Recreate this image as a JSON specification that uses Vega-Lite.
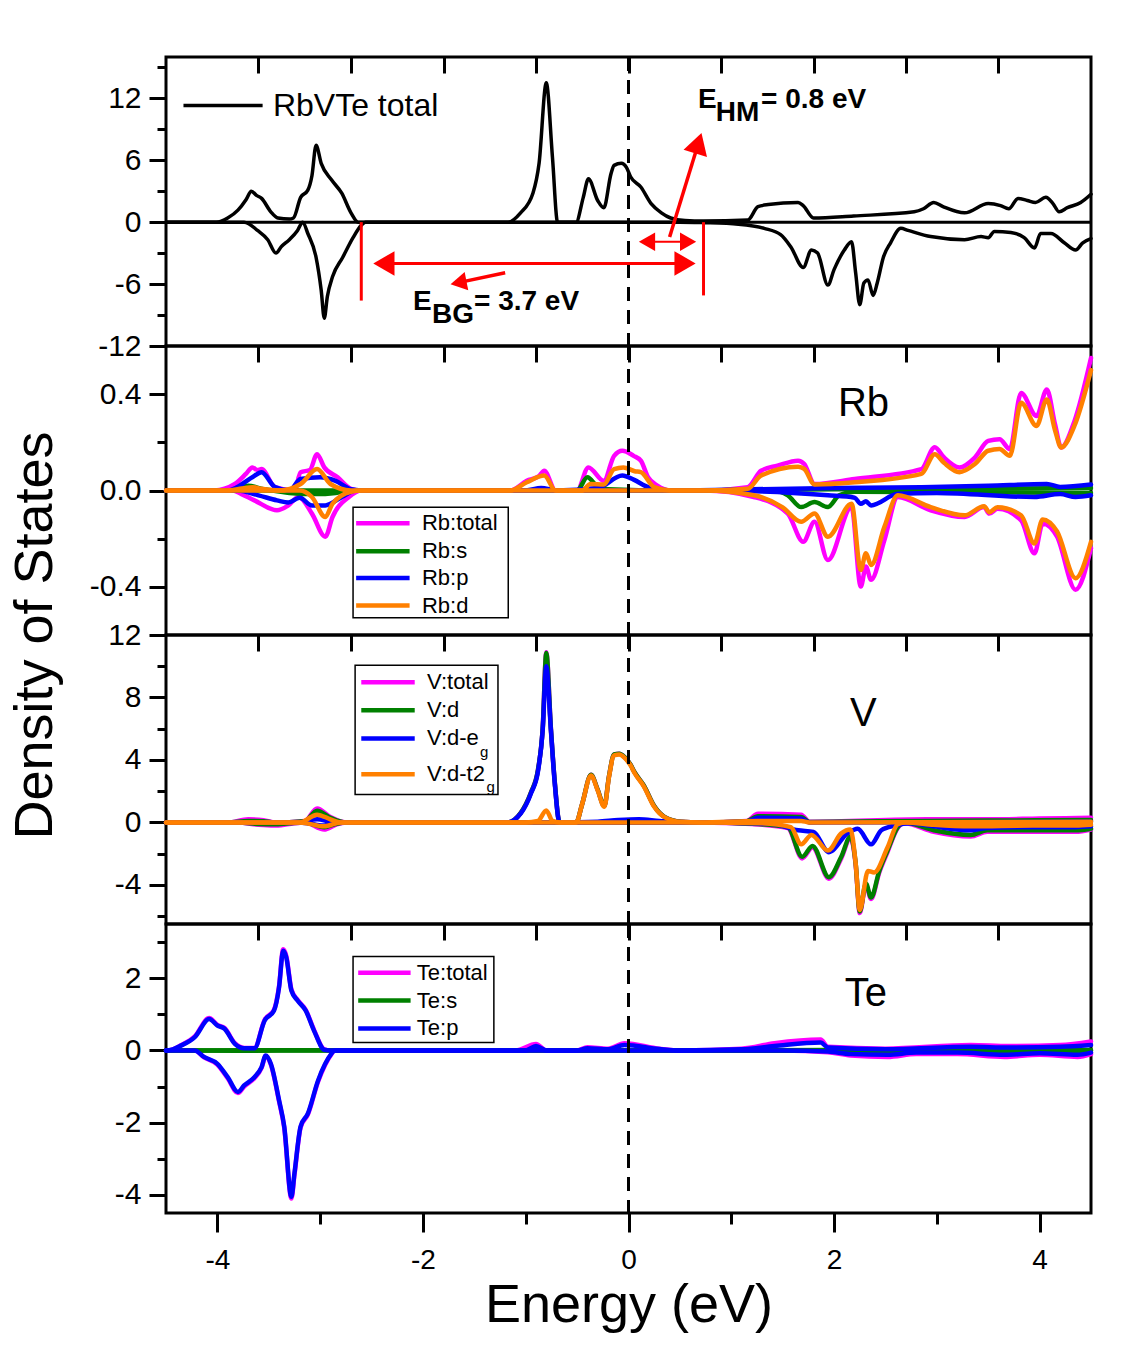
{
"$schema": "https://vega.github.io/schema/vega-lite/v6.json",
"background": "white",
"padding": {"left": 6, "top": 50, "right": 30, "bottom": 10},
"spacing": 0,
"bounds": "flush",
"config": {
  "view": {"stroke": "black", "strokeWidth": 3},
  "font": "Liberation Sans",
  "axis": {"domain": false, "grid": false, "tickColor": "black", "tickWidth": 3, "labelColor": "black", "labelFont": "Liberation Sans", "labelFontSize": 30, "labelOverlap": false, "labelBound": false, "tickCount": 50, "titleColor": "black", "titleFont": "Liberation Sans", "titleFontWeight": "normal", "titleFontSize": 54},
  "line": {"strokeJoin": "round", "strokeCap": "round", "interpolate": "monotone"}
},
"datasets": {
"tot": [
{"sp":"u","E":-4.5,"v":0},{"sp":"u","E":-4.01,"v":0},{"sp":"u","E":-3.9,"v":0.4},{"sp":"u","E":-3.8,"v":1.16},{"sp":"u","E":-3.72,"v":2.2},{"sp":"u","E":-3.67,"v":3.0},{"sp":"u","E":-3.62,"v":2.6},{"sp":"u","E":-3.57,"v":2.3},{"sp":"u","E":-3.48,"v":1.0},{"sp":"u","E":-3.41,"v":0.4},{"sp":"u","E":-3.3,"v":0.3},{"sp":"u","E":-3.26,"v":0.4},{"sp":"u","E":-3.19,"v":2.4},{"sp":"u","E":-3.12,"v":3.1},{"sp":"u","E":-3.08,"v":4.5},{"sp":"u","E":-3.04,"v":7.45},{"sp":"u","E":-2.99,"v":5.7},{"sp":"u","E":-2.89,"v":4.1},{"sp":"u","E":-2.79,"v":2.8},{"sp":"u","E":-2.7,"v":0.9},{"sp":"u","E":-2.63,"v":0},{"sp":"u","E":-1.17,"v":0},{"sp":"u","E":-1.05,"v":0.9},{"sp":"u","E":-0.93,"v":2.8},{"sp":"u","E":-0.87,"v":5.7},{"sp":"u","E":-0.8,"v":13.5},{"sp":"u","E":-0.74,"v":6.3},{"sp":"u","E":-0.69,"v":0},{"sp":"u","E":-0.51,"v":0},{"sp":"u","E":-0.44,"v":2.4},{"sp":"u","E":-0.39,"v":4.2},{"sp":"u","E":-0.3,"v":2.1},{"sp":"u","E":-0.24,"v":1.4},{"sp":"u","E":-0.17,"v":4.7},{"sp":"u","E":-0.14,"v":5.5},{"sp":"u","E":-0.07,"v":5.7},{"sp":"u","E":-0.02,"v":5.3},{"sp":"u","E":0.02,"v":4.4},{"sp":"u","E":0.12,"v":3.4},{"sp":"u","E":0.22,"v":1.8},{"sp":"u","E":0.32,"v":0.9},{"sp":"u","E":0.41,"v":0.4},{"sp":"u","E":0.55,"v":0.15},{"sp":"u","E":0.73,"v":0.1},{"sp":"u","E":1.16,"v":0.2},{"sp":"u","E":1.26,"v":1.5},{"sp":"u","E":1.36,"v":1.7},{"sp":"u","E":1.65,"v":1.9},{"sp":"u","E":1.7,"v":1.6},{"sp":"u","E":1.8,"v":0.4},{"sp":"u","E":2.19,"v":0.6},{"sp":"u","E":2.78,"v":1.0},{"sp":"u","E":2.87,"v":1.3},{"sp":"u","E":2.97,"v":1.9},{"sp":"u","E":3.06,"v":1.5},{"sp":"u","E":3.27,"v":0.9},{"sp":"u","E":3.5,"v":1.8},{"sp":"u","E":3.62,"v":1.6},{"sp":"u","E":3.7,"v":1.3},{"sp":"u","E":3.79,"v":2.3},{"sp":"u","E":3.88,"v":2.1},{"sp":"u","E":3.96,"v":1.9},{"sp":"u","E":4.06,"v":2.4},{"sp":"u","E":4.13,"v":1.8},{"sp":"u","E":4.19,"v":1.0},{"sp":"u","E":4.27,"v":1.4},{"sp":"u","E":4.4,"v":1.9},{"sp":"u","E":4.5,"v":2.7},
{"sp":"d","E":-4.5,"v":0},{"sp":"d","E":-3.74,"v":0},{"sp":"d","E":-3.61,"v":-0.8},{"sp":"d","E":-3.51,"v":-1.7},{"sp":"d","E":-3.43,"v":-3.0},{"sp":"d","E":-3.38,"v":-2.4},{"sp":"d","E":-3.3,"v":-1.7},{"sp":"d","E":-3.22,"v":-0.8},{"sp":"d","E":-3.17,"v":0},{"sp":"d","E":-3.12,"v":-1.1},{"sp":"d","E":-3.04,"v":-3.4},{"sp":"d","E":-2.99,"v":-6.6},{"sp":"d","E":-2.96,"v":-9.3},{"sp":"d","E":-2.93,"v":-7.2},{"sp":"d","E":-2.88,"v":-5.3},{"sp":"d","E":-2.78,"v":-3.4},{"sp":"d","E":-2.68,"v":-1.5},{"sp":"d","E":-2.6,"v":-0.3},{"sp":"d","E":-2.56,"v":0},{"sp":"d","E":0.5,"v":0},{"sp":"d","E":0.73,"v":-0.05},{"sp":"d","E":1.07,"v":-0.2},{"sp":"d","E":1.32,"v":-0.6},{"sp":"d","E":1.48,"v":-1.2},{"sp":"d","E":1.58,"v":-2.4},{"sp":"d","E":1.7,"v":-4.4},{"sp":"d","E":1.78,"v":-2.7},{"sp":"d","E":1.84,"v":-3.0},{"sp":"d","E":1.94,"v":-6.1},{"sp":"d","E":2.0,"v":-4.6},{"sp":"d","E":2.1,"v":-2.7},{"sp":"d","E":2.17,"v":-1.9},{"sp":"d","E":2.21,"v":-4.9},{"sp":"d","E":2.25,"v":-8.0},{"sp":"d","E":2.29,"v":-5.9},{"sp":"d","E":2.33,"v":-5.6},{"sp":"d","E":2.38,"v":-7.1},{"sp":"d","E":2.42,"v":-5.9},{"sp":"d","E":2.48,"v":-3.4},{"sp":"d","E":2.55,"v":-2.0},{"sp":"d","E":2.65,"v":-0.6},{"sp":"d","E":2.72,"v":-0.8},{"sp":"d","E":2.94,"v":-1.4},{"sp":"d","E":3.27,"v":-1.7},{"sp":"d","E":3.43,"v":-1.4},{"sp":"d","E":3.5,"v":-1.5},{"sp":"d","E":3.56,"v":-0.9},{"sp":"d","E":3.72,"v":-1.0},{"sp":"d","E":3.85,"v":-1.5},{"sp":"d","E":3.95,"v":-2.5},{"sp":"d","E":4.01,"v":-1.1},{"sp":"d","E":4.11,"v":-1.1},{"sp":"d","E":4.24,"v":-2.0},{"sp":"d","E":4.35,"v":-2.7},{"sp":"d","E":4.42,"v":-2.0},{"sp":"d","E":4.5,"v":-1.6}
],
"rb_t": [
{"sp":"u","E":-4.5,"v":0},{"sp":"u","E":-4.03,"v":0},{"sp":"u","E":-3.83,"v":0.027},{"sp":"u","E":-3.72,"v":0.07},{"sp":"u","E":-3.66,"v":0.096},{"sp":"u","E":-3.61,"v":0.085},{"sp":"u","E":-3.57,"v":0.089},{"sp":"u","E":-3.44,"v":0.014},{"sp":"u","E":-3.25,"v":0},{"sp":"u","E":-3.19,"v":0.076},{"sp":"u","E":-3.1,"v":0.085},{"sp":"u","E":-3.03,"v":0.151},{"sp":"u","E":-2.96,"v":0.096},{"sp":"u","E":-2.83,"v":0.055},{"sp":"u","E":-2.7,"v":0.007},{"sp":"u","E":-2.6,"v":0},{"sp":"u","E":-1.15,"v":0},{"sp":"u","E":-0.99,"v":0.04},{"sp":"u","E":-0.87,"v":0.06},{"sp":"u","E":-0.82,"v":0.082},{"sp":"u","E":-0.71,"v":0},{"sp":"u","E":-0.5,"v":0},{"sp":"u","E":-0.39,"v":0.096},{"sp":"u","E":-0.24,"v":0.04},{"sp":"u","E":-0.14,"v":0.144},{"sp":"u","E":-0.06,"v":0.165},{"sp":"u","E":0.05,"v":0.144},{"sp":"u","E":0.12,"v":0.124},{"sp":"u","E":0.19,"v":0.055},{"sp":"u","E":0.28,"v":0.02},{"sp":"u","E":0.41,"v":0},{"sp":"u","E":0.74,"v":0},{"sp":"u","E":1.16,"v":0.014},{"sp":"u","E":1.29,"v":0.082},{"sp":"u","E":1.45,"v":0.103},{"sp":"u","E":1.65,"v":0.124},{"sp":"u","E":1.71,"v":0.11},{"sp":"u","E":1.81,"v":0.027},{"sp":"u","E":2.2,"v":0.048},{"sp":"u","E":2.85,"v":0.089},{"sp":"u","E":2.98,"v":0.18},{"sp":"u","E":3.07,"v":0.137},{"sp":"u","E":3.22,"v":0.096},{"sp":"u","E":3.37,"v":0.137},{"sp":"u","E":3.5,"v":0.206},{"sp":"u","E":3.61,"v":0.213},{"sp":"u","E":3.71,"v":0.172},{"sp":"u","E":3.82,"v":0.405},{"sp":"u","E":3.97,"v":0.309},{"sp":"u","E":4.07,"v":0.419},{"sp":"u","E":4.15,"v":0.275},{"sp":"u","E":4.21,"v":0.179},{"sp":"u","E":4.34,"v":0.289},{"sp":"u","E":4.5,"v":0.55},
{"sp":"d","E":-4.5,"v":0},{"sp":"d","E":-3.85,"v":0},{"sp":"d","E":-3.77,"v":-0.014},{"sp":"d","E":-3.64,"v":-0.041},{"sp":"d","E":-3.42,"v":-0.082},{"sp":"d","E":-3.31,"v":-0.062},{"sp":"d","E":-3.21,"v":-0.027},{"sp":"d","E":-3.08,"v":-0.096},{"sp":"d","E":-2.95,"v":-0.192},{"sp":"d","E":-2.88,"v":-0.11},{"sp":"d","E":-2.72,"v":-0.027},{"sp":"d","E":-2.6,"v":0},{"sp":"d","E":0.74,"v":0},{"sp":"d","E":1.22,"v":-0.027},{"sp":"d","E":1.55,"v":-0.096},{"sp":"d","E":1.7,"v":-0.213},{"sp":"d","E":1.81,"v":-0.13},{"sp":"d","E":1.94,"v":-0.289},{"sp":"d","E":2.17,"v":-0.069},{"sp":"d","E":2.26,"v":-0.399},{"sp":"d","E":2.31,"v":-0.316},{"sp":"d","E":2.36,"v":-0.371},{"sp":"d","E":2.49,"v":-0.206},{"sp":"d","E":2.62,"v":-0.027},{"sp":"d","E":2.94,"v":-0.082},{"sp":"d","E":3.27,"v":-0.11},{"sp":"d","E":3.46,"v":-0.069},{"sp":"d","E":3.51,"v":-0.096},{"sp":"d","E":3.59,"v":-0.076},{"sp":"d","E":3.82,"v":-0.124},{"sp":"d","E":3.95,"v":-0.261},{"sp":"d","E":4.03,"v":-0.137},{"sp":"d","E":4.17,"v":-0.192},{"sp":"d","E":4.35,"v":-0.412},{"sp":"d","E":4.5,"v":-0.24}
],
"rb_s": [
{"sp":"u","E":-4.5,"v":0},{"sp":"u","E":-3.85,"v":0},{"sp":"u","E":-3.7,"v":0.02},{"sp":"u","E":-3.55,"v":0.005},{"sp":"u","E":-3.4,"v":0},{"sp":"u","E":-0.5,"v":0},{"sp":"u","E":-0.4,"v":0.055},{"sp":"u","E":-0.3,"v":0.015},{"sp":"u","E":-0.2,"v":0.005},{"sp":"u","E":0.4,"v":0},{"sp":"u","E":2.0,"v":0.005},{"sp":"u","E":4.5,"v":0.01},
{"sp":"d","E":-4.5,"v":0},{"sp":"d","E":-3.5,"v":0},{"sp":"d","E":-3.3,"v":-0.01},{"sp":"d","E":-3.05,"v":-0.015},{"sp":"d","E":-2.85,"v":-0.01},{"sp":"d","E":-2.7,"v":0},{"sp":"d","E":1.4,"v":0},{"sp":"d","E":1.55,"v":-0.02},{"sp":"d","E":1.68,"v":-0.069},{"sp":"d","E":1.81,"v":-0.048},{"sp":"d","E":1.94,"v":-0.069},{"sp":"d","E":2.05,"v":-0.02},{"sp":"d","E":2.2,"v":-0.005},{"sp":"d","E":4.5,"v":-0.01}
],
"rb_p": [
{"sp":"u","E":-4.5,"v":0},{"sp":"u","E":-3.9,"v":0},{"sp":"u","E":-3.66,"v":0.055},{"sp":"u","E":-3.57,"v":0.076},{"sp":"u","E":-3.44,"v":0.014},{"sp":"u","E":-3.3,"v":0},{"sp":"u","E":-3.19,"v":0.048},{"sp":"u","E":-3.0,"v":0.055},{"sp":"u","E":-2.85,"v":0.04},{"sp":"u","E":-2.7,"v":0.005},{"sp":"u","E":-2.6,"v":0},{"sp":"u","E":-1.0,"v":0},{"sp":"u","E":-0.85,"v":0.01},{"sp":"u","E":-0.7,"v":0},{"sp":"u","E":-0.3,"v":0.01},{"sp":"u","E":-0.06,"v":0.062},{"sp":"u","E":0.05,"v":0.045},{"sp":"u","E":0.19,"v":0.014},{"sp":"u","E":0.4,"v":0},{"sp":"u","E":1.2,"v":0.005},{"sp":"u","E":2.0,"v":0.01},{"sp":"u","E":2.85,"v":0.014},{"sp":"u","E":3.5,"v":0.02},{"sp":"u","E":4.07,"v":0.027},{"sp":"u","E":4.2,"v":0.015},{"sp":"u","E":4.5,"v":0.025},
{"sp":"d","E":-4.5,"v":0},{"sp":"d","E":-3.8,"v":0},{"sp":"d","E":-3.6,"v":-0.02},{"sp":"d","E":-3.42,"v":-0.041},{"sp":"d","E":-3.31,"v":-0.05},{"sp":"d","E":-3.2,"v":-0.03},{"sp":"d","E":-3.08,"v":-0.062},{"sp":"d","E":-2.95,"v":-0.062},{"sp":"d","E":-2.8,"v":-0.03},{"sp":"d","E":-2.65,"v":0},{"sp":"d","E":0.74,"v":0},{"sp":"d","E":1.6,"v":-0.01},{"sp":"d","E":1.94,"v":-0.02},{"sp":"d","E":2.2,"v":-0.03},{"sp":"d","E":2.26,"v":-0.055},{"sp":"d","E":2.31,"v":-0.045},{"sp":"d","E":2.36,"v":-0.062},{"sp":"d","E":2.62,"v":-0.014},{"sp":"d","E":3.0,"v":-0.01},{"sp":"d","E":3.95,"v":-0.027},{"sp":"d","E":4.2,"v":-0.015},{"sp":"d","E":4.35,"v":-0.027},{"sp":"d","E":4.5,"v":-0.02}
],
"rb_d": [
{"sp":"u","E":-4.5,"v":0},{"sp":"u","E":-3.9,"v":0},{"sp":"u","E":-3.66,"v":0.014},{"sp":"u","E":-3.57,"v":0.007},{"sp":"u","E":-3.4,"v":0},{"sp":"u","E":-3.19,"v":0.027},{"sp":"u","E":-3.03,"v":0.089},{"sp":"u","E":-2.9,"v":0.027},{"sp":"u","E":-2.7,"v":0},{"sp":"u","E":-1.15,"v":0},{"sp":"u","E":-0.99,"v":0.034},{"sp":"u","E":-0.82,"v":0.062},{"sp":"u","E":-0.71,"v":0},{"sp":"u","E":-0.45,"v":0},{"sp":"u","E":-0.37,"v":0.027},{"sp":"u","E":-0.24,"v":0.025},{"sp":"u","E":-0.14,"v":0.089},{"sp":"u","E":-0.05,"v":0.096},{"sp":"u","E":0.06,"v":0.08},{"sp":"u","E":0.12,"v":0.076},{"sp":"u","E":0.25,"v":0.014},{"sp":"u","E":0.41,"v":0},{"sp":"u","E":0.74,"v":0},{"sp":"u","E":1.16,"v":0.007},{"sp":"u","E":1.29,"v":0.062},{"sp":"u","E":1.65,"v":0.099},{"sp":"u","E":1.71,"v":0.09},{"sp":"u","E":1.81,"v":0.025},{"sp":"u","E":2.2,"v":0.034},{"sp":"u","E":2.85,"v":0.069},{"sp":"u","E":2.98,"v":0.151},{"sp":"u","E":3.07,"v":0.115},{"sp":"u","E":3.22,"v":0.076},{"sp":"u","E":3.37,"v":0.11},{"sp":"u","E":3.5,"v":0.165},{"sp":"u","E":3.61,"v":0.172},{"sp":"u","E":3.71,"v":0.144},{"sp":"u","E":3.82,"v":0.364},{"sp":"u","E":3.97,"v":0.268},{"sp":"u","E":4.07,"v":0.378},{"sp":"u","E":4.15,"v":0.25},{"sp":"u","E":4.21,"v":0.179},{"sp":"u","E":4.34,"v":0.27},{"sp":"u","E":4.5,"v":0.5},
{"sp":"d","E":-4.5,"v":0},{"sp":"d","E":-3.2,"v":0},{"sp":"d","E":-3.08,"v":-0.027},{"sp":"d","E":-2.95,"v":-0.11},{"sp":"d","E":-2.88,"v":-0.055},{"sp":"d","E":-2.7,"v":-0.005},{"sp":"d","E":-2.6,"v":0},{"sp":"d","E":0.74,"v":0},{"sp":"d","E":1.22,"v":-0.02},{"sp":"d","E":1.5,"v":-0.07},{"sp":"d","E":1.68,"v":-0.13},{"sp":"d","E":1.81,"v":-0.096},{"sp":"d","E":1.94,"v":-0.192},{"sp":"d","E":2.17,"v":-0.055},{"sp":"d","E":2.26,"v":-0.33},{"sp":"d","E":2.31,"v":-0.261},{"sp":"d","E":2.36,"v":-0.309},{"sp":"d","E":2.49,"v":-0.151},{"sp":"d","E":2.62,"v":-0.02},{"sp":"d","E":2.94,"v":-0.069},{"sp":"d","E":3.27,"v":-0.103},{"sp":"d","E":3.46,"v":-0.065},{"sp":"d","E":3.51,"v":-0.09},{"sp":"d","E":3.59,"v":-0.07},{"sp":"d","E":3.82,"v":-0.103},{"sp":"d","E":3.95,"v":-0.22},{"sp":"d","E":4.03,"v":-0.12},{"sp":"d","E":4.17,"v":-0.17},{"sp":"d","E":4.35,"v":-0.364},{"sp":"d","E":4.5,"v":-0.213}
],
"v_t": [
{"sp":"u","E":-4.5,"v":0},{"sp":"u","E":-3.9,"v":0},{"sp":"u","E":-3.7,"v":0.2},{"sp":"u","E":-3.55,"v":0.15},{"sp":"u","E":-3.45,"v":0},{"sp":"u","E":-3.15,"v":0.1},{"sp":"u","E":-3.03,"v":0.9},{"sp":"u","E":-2.9,"v":0.35},{"sp":"u","E":-2.75,"v":0},{"sp":"u","E":-1.18,"v":0},{"sp":"u","E":-1.05,"v":0.6},{"sp":"u","E":-0.95,"v":1.9},{"sp":"u","E":-0.88,"v":3.4},{"sp":"u","E":-0.835,"v":6.0},{"sp":"u","E":-0.8,"v":10.9},{"sp":"u","E":-0.755,"v":6.0},{"sp":"u","E":-0.72,"v":2.8},{"sp":"u","E":-0.67,"v":0},{"sp":"u","E":-0.51,"v":0},{"sp":"u","E":-0.45,"v":1.2},{"sp":"u","E":-0.365,"v":3.05},{"sp":"u","E":-0.3,"v":2.1},{"sp":"u","E":-0.235,"v":1.05},{"sp":"u","E":-0.19,"v":2.95},{"sp":"u","E":-0.14,"v":4.35},{"sp":"u","E":-0.09,"v":4.4},{"sp":"u","E":-0.04,"v":4.2},{"sp":"u","E":0.02,"v":3.7},{"sp":"u","E":0.06,"v":3.2},{"sp":"u","E":0.15,"v":2.35},{"sp":"u","E":0.25,"v":1.05},{"sp":"u","E":0.35,"v":0.36},{"sp":"u","E":0.51,"v":0.05},{"sp":"u","E":0.7,"v":0},{"sp":"u","E":1.15,"v":0.1},{"sp":"u","E":1.26,"v":0.56},{"sp":"u","E":1.68,"v":0.5},{"sp":"u","E":1.76,"v":0.05},{"sp":"u","E":2.9,"v":0.2},{"sp":"u","E":3.5,"v":0.2},{"sp":"u","E":4.0,"v":0.25},{"sp":"u","E":4.5,"v":0.3},
{"sp":"d","E":-4.5,"v":0},{"sp":"d","E":-3.8,"v":0},{"sp":"d","E":-3.6,"v":-0.15},{"sp":"d","E":-3.45,"v":-0.2},{"sp":"d","E":-3.3,"v":-0.1},{"sp":"d","E":-3.15,"v":0},{"sp":"d","E":-2.96,"v":-0.45},{"sp":"d","E":-2.85,"v":-0.15},{"sp":"d","E":-2.75,"v":0},{"sp":"d","E":0.7,"v":0},{"sp":"d","E":1.2,"v":-0.1},{"sp":"d","E":1.55,"v":-0.35},{"sp":"d","E":1.69,"v":-2.3},{"sp":"d","E":1.79,"v":-1.6},{"sp":"d","E":1.95,"v":-3.6},{"sp":"d","E":2.07,"v":-2.3},{"sp":"d","E":2.16,"v":-1.0},{"sp":"d","E":2.21,"v":-2.7},{"sp":"d","E":2.25,"v":-5.8},{"sp":"d","E":2.31,"v":-4.0},{"sp":"d","E":2.36,"v":-4.9},{"sp":"d","E":2.44,"v":-3.2},{"sp":"d","E":2.52,"v":-1.9},{"sp":"d","E":2.62,"v":-0.35},{"sp":"d","E":2.68,"v":-0.05},{"sp":"d","E":2.97,"v":-0.6},{"sp":"d","E":3.33,"v":-0.9},{"sp":"d","E":3.49,"v":-0.6},{"sp":"d","E":3.93,"v":-0.6},{"sp":"d","E":4.35,"v":-0.6},{"sp":"d","E":4.5,"v":-0.45}
],
"v_d": [
{"sp":"u","E":-4.5,"v":0},{"sp":"u","E":-3.9,"v":0},{"sp":"u","E":-3.7,"v":0.1},{"sp":"u","E":-3.55,"v":0.08},{"sp":"u","E":-3.45,"v":0},{"sp":"u","E":-3.15,"v":0.08},{"sp":"u","E":-3.03,"v":0.75},{"sp":"u","E":-2.9,"v":0.3},{"sp":"u","E":-2.75,"v":0},{"sp":"u","E":-1.18,"v":0},{"sp":"u","E":-1.05,"v":0.6},{"sp":"u","E":-0.95,"v":1.9},{"sp":"u","E":-0.88,"v":3.4},{"sp":"u","E":-0.835,"v":6.0},{"sp":"u","E":-0.8,"v":10.85},{"sp":"u","E":-0.755,"v":6.0},{"sp":"u","E":-0.72,"v":2.8},{"sp":"u","E":-0.67,"v":0},{"sp":"u","E":-0.51,"v":0},{"sp":"u","E":-0.45,"v":1.2},{"sp":"u","E":-0.365,"v":3.05},{"sp":"u","E":-0.3,"v":2.1},{"sp":"u","E":-0.235,"v":1.05},{"sp":"u","E":-0.19,"v":2.95},{"sp":"u","E":-0.14,"v":4.35},{"sp":"u","E":-0.09,"v":4.4},{"sp":"u","E":-0.04,"v":4.2},{"sp":"u","E":0.02,"v":3.7},{"sp":"u","E":0.06,"v":3.2},{"sp":"u","E":0.15,"v":2.35},{"sp":"u","E":0.25,"v":1.05},{"sp":"u","E":0.35,"v":0.36},{"sp":"u","E":0.51,"v":0.05},{"sp":"u","E":0.7,"v":0},{"sp":"u","E":1.15,"v":0.08},{"sp":"u","E":1.26,"v":0.4},{"sp":"u","E":1.68,"v":0.35},{"sp":"u","E":1.76,"v":0.03},{"sp":"u","E":2.9,"v":0.1},{"sp":"u","E":3.5,"v":0.12},{"sp":"u","E":4.5,"v":0.15},
{"sp":"d","E":-4.5,"v":0},{"sp":"d","E":-3.8,"v":0},{"sp":"d","E":-3.6,"v":-0.1},{"sp":"d","E":-3.45,"v":-0.12},{"sp":"d","E":-3.3,"v":-0.05},{"sp":"d","E":-3.15,"v":0},{"sp":"d","E":-2.96,"v":-0.3},{"sp":"d","E":-2.85,"v":-0.1},{"sp":"d","E":-2.75,"v":0},{"sp":"d","E":0.7,"v":0},{"sp":"d","E":1.2,"v":-0.08},{"sp":"d","E":1.55,"v":-0.3},{"sp":"d","E":1.69,"v":-2.2},{"sp":"d","E":1.79,"v":-1.5},{"sp":"d","E":1.95,"v":-3.5},{"sp":"d","E":2.07,"v":-2.2},{"sp":"d","E":2.16,"v":-0.9},{"sp":"d","E":2.21,"v":-2.6},{"sp":"d","E":2.25,"v":-5.7},{"sp":"d","E":2.31,"v":-3.9},{"sp":"d","E":2.36,"v":-4.8},{"sp":"d","E":2.44,"v":-3.1},{"sp":"d","E":2.52,"v":-1.8},{"sp":"d","E":2.62,"v":-0.3},{"sp":"d","E":2.68,"v":0},{"sp":"d","E":2.97,"v":-0.5},{"sp":"d","E":3.33,"v":-0.8},{"sp":"d","E":3.49,"v":-0.5},{"sp":"d","E":3.93,"v":-0.5},{"sp":"d","E":4.35,"v":-0.5},{"sp":"d","E":4.5,"v":-0.4}
],
"v_eg": [
{"sp":"u","E":-4.5,"v":0},{"sp":"u","E":-3.2,"v":0},{"sp":"u","E":-3.03,"v":0.2},{"sp":"u","E":-2.9,"v":0.05},{"sp":"u","E":-2.8,"v":0},{"sp":"u","E":-1.18,"v":0},{"sp":"u","E":-1.05,"v":0.56},{"sp":"u","E":-0.95,"v":1.84},{"sp":"u","E":-0.88,"v":3.3},{"sp":"u","E":-0.835,"v":5.9},{"sp":"u","E":-0.8,"v":10.0},{"sp":"u","E":-0.755,"v":5.9},{"sp":"u","E":-0.72,"v":2.7},{"sp":"u","E":-0.67,"v":0},{"sp":"u","E":-0.3,"v":0.05},{"sp":"u","E":-0.1,"v":0.15},{"sp":"u","E":0.1,"v":0.2},{"sp":"u","E":0.3,"v":0.1},{"sp":"u","E":0.6,"v":0},{"sp":"u","E":1.15,"v":0.05},{"sp":"u","E":1.26,"v":0.3},{"sp":"u","E":1.68,"v":0.25},{"sp":"u","E":1.76,"v":0},{"sp":"u","E":4.5,"v":0.05},
{"sp":"d","E":-4.5,"v":0},{"sp":"d","E":-3.2,"v":0},{"sp":"d","E":-2.96,"v":-0.2},{"sp":"d","E":-2.8,"v":0},{"sp":"d","E":0.7,"v":0},{"sp":"d","E":1.4,"v":-0.1},{"sp":"d","E":1.65,"v":-0.5},{"sp":"d","E":1.8,"v":-0.6},{"sp":"d","E":1.95,"v":-1.9},{"sp":"d","E":2.13,"v":-0.7},{"sp":"d","E":2.23,"v":-0.4},{"sp":"d","E":2.36,"v":-1.4},{"sp":"d","E":2.46,"v":-0.5},{"sp":"d","E":2.59,"v":-0.2},{"sp":"d","E":2.75,"v":-0.05},{"sp":"d","E":2.97,"v":-0.25},{"sp":"d","E":3.33,"v":-0.5},{"sp":"d","E":3.49,"v":-0.35},{"sp":"d","E":3.93,"v":-0.3},{"sp":"d","E":4.35,"v":-0.3},{"sp":"d","E":4.5,"v":-0.25}
],
"v_t2g": [
{"sp":"u","E":-4.5,"v":0},{"sp":"u","E":-3.2,"v":0},{"sp":"u","E":-3.03,"v":0.5},{"sp":"u","E":-2.9,"v":0.2},{"sp":"u","E":-2.8,"v":0},{"sp":"u","E":-1.0,"v":0},{"sp":"u","E":-0.88,"v":0.1},{"sp":"u","E":-0.8,"v":0.77},{"sp":"u","E":-0.74,"v":0.1},{"sp":"u","E":-0.67,"v":0},{"sp":"u","E":-0.51,"v":0},{"sp":"u","E":-0.45,"v":1.2},{"sp":"u","E":-0.365,"v":3.0},{"sp":"u","E":-0.3,"v":2.05},{"sp":"u","E":-0.235,"v":1.0},{"sp":"u","E":-0.19,"v":2.9},{"sp":"u","E":-0.14,"v":4.3},{"sp":"u","E":-0.09,"v":4.35},{"sp":"u","E":-0.04,"v":4.15},{"sp":"u","E":0.02,"v":3.65},{"sp":"u","E":0.06,"v":3.15},{"sp":"u","E":0.15,"v":2.3},{"sp":"u","E":0.25,"v":1.0},{"sp":"u","E":0.35,"v":0.34},{"sp":"u","E":0.51,"v":0.04},{"sp":"u","E":0.7,"v":0},{"sp":"u","E":1.26,"v":0.1},{"sp":"u","E":1.68,"v":0.1},{"sp":"u","E":1.76,"v":0},{"sp":"u","E":4.5,"v":0.05},
{"sp":"d","E":-4.5,"v":0},{"sp":"d","E":-3.2,"v":0},{"sp":"d","E":-2.96,"v":-0.25},{"sp":"d","E":-2.8,"v":0},{"sp":"d","E":0.7,"v":0},{"sp":"d","E":1.3,"v":-0.05},{"sp":"d","E":1.58,"v":-0.3},{"sp":"d","E":1.68,"v":-1.4},{"sp":"d","E":1.78,"v":-0.8},{"sp":"d","E":1.94,"v":-1.8},{"sp":"d","E":2.07,"v":-0.7},{"sp":"d","E":2.16,"v":-0.45},{"sp":"d","E":2.21,"v":-2.6},{"sp":"d","E":2.25,"v":-5.6},{"sp":"d","E":2.33,"v":-3.1},{"sp":"d","E":2.39,"v":-3.2},{"sp":"d","E":2.52,"v":-1.6},{"sp":"d","E":2.62,"v":-0.1},{"sp":"d","E":2.7,"v":0},{"sp":"d","E":2.97,"v":-0.15},{"sp":"d","E":3.33,"v":-0.25},{"sp":"d","E":3.93,"v":-0.2},{"sp":"d","E":4.35,"v":-0.2},{"sp":"d","E":4.5,"v":-0.15}
],
"te_t": [
{"sp":"u","E":-4.5,"v":0},{"sp":"u","E":-4.48,"v":0},{"sp":"u","E":-4.35,"v":0.15},{"sp":"u","E":-4.22,"v":0.39},{"sp":"u","E":-4.08,"v":0.9},{"sp":"u","E":-4.0,"v":0.71},{"sp":"u","E":-3.93,"v":0.62},{"sp":"u","E":-3.83,"v":0.2},{"sp":"u","E":-3.74,"v":0.07},{"sp":"u","E":-3.64,"v":0.07},{"sp":"u","E":-3.54,"v":0.85},{"sp":"u","E":-3.45,"v":1.12},{"sp":"u","E":-3.4,"v":1.78},{"sp":"u","E":-3.36,"v":2.8},{"sp":"u","E":-3.33,"v":2.62},{"sp":"u","E":-3.28,"v":1.69},{"sp":"u","E":-3.22,"v":1.4},{"sp":"u","E":-3.14,"v":1.12},{"sp":"u","E":-3.06,"v":0.57},{"sp":"u","E":-2.96,"v":0.03},{"sp":"u","E":-2.9,"v":0},{"sp":"u","E":-1.1,"v":0},{"sp":"u","E":-0.9,"v":0.18},{"sp":"u","E":-0.8,"v":0},{"sp":"u","E":-0.5,"v":0},{"sp":"u","E":-0.4,"v":0.09},{"sp":"u","E":-0.2,"v":0.05},{"sp":"u","E":-0.04,"v":0.2},{"sp":"u","E":0.3,"v":0.05},{"sp":"u","E":0.5,"v":0},{"sp":"u","E":1.1,"v":0.05},{"sp":"u","E":1.42,"v":0.2},{"sp":"u","E":1.87,"v":0.3},{"sp":"u","E":1.94,"v":0.1},{"sp":"u","E":2.5,"v":0.05},{"sp":"u","E":3.33,"v":0.15},{"sp":"u","E":3.7,"v":0.12},{"sp":"u","E":4.2,"v":0.15},{"sp":"u","E":4.5,"v":0.25},
{"sp":"d","E":-4.5,"v":0},{"sp":"d","E":-4.22,"v":0},{"sp":"d","E":-4.13,"v":-0.19},{"sp":"d","E":-4.0,"v":-0.39},{"sp":"d","E":-3.9,"v":-0.77},{"sp":"d","E":-3.8,"v":-1.18},{"sp":"d","E":-3.74,"v":-1.0},{"sp":"d","E":-3.64,"v":-0.77},{"sp":"d","E":-3.57,"v":-0.48},{"sp":"d","E":-3.53,"v":-0.16},{"sp":"d","E":-3.48,"v":-0.39},{"sp":"d","E":-3.4,"v":-1.41},{"sp":"d","E":-3.35,"v":-2.13},{"sp":"d","E":-3.28,"v":-4.1},{"sp":"d","E":-3.25,"v":-3.44},{"sp":"d","E":-3.19,"v":-2.13},{"sp":"d","E":-3.12,"v":-1.78},{"sp":"d","E":-3.02,"v":-0.86},{"sp":"d","E":-2.89,"v":-0.1},{"sp":"d","E":-2.86,"v":0},{"sp":"d","E":1.5,"v":0},{"sp":"d","E":1.94,"v":-0.05},{"sp":"d","E":2.16,"v":-0.14},{"sp":"d","E":2.52,"v":-0.18},{"sp":"d","E":2.8,"v":-0.1},{"sp":"d","E":3.2,"v":-0.1},{"sp":"d","E":3.66,"v":-0.18},{"sp":"d","E":4.0,"v":-0.12},{"sp":"d","E":4.37,"v":-0.18},{"sp":"d","E":4.5,"v":-0.1}
],
"te_s": [
{"sp":"u","E":-4.5,"v":0},{"sp":"u","E":-3.0,"v":0.005},{"sp":"u","E":0.0,"v":0.005},{"sp":"u","E":2.0,"v":0.01},{"sp":"u","E":4.5,"v":0.01},
{"sp":"d","E":-4.5,"v":0},{"sp":"d","E":-3.8,"v":-0.01},{"sp":"d","E":-3.0,"v":0},{"sp":"d","E":2.0,"v":-0.01},{"sp":"d","E":4.5,"v":-0.01}
],
"te_p": [
{"sp":"u","E":-4.5,"v":0},{"sp":"u","E":-4.48,"v":0},{"sp":"u","E":-4.35,"v":0.14},{"sp":"u","E":-4.22,"v":0.37},{"sp":"u","E":-4.08,"v":0.87},{"sp":"u","E":-4.0,"v":0.69},{"sp":"u","E":-3.93,"v":0.6},{"sp":"u","E":-3.83,"v":0.18},{"sp":"u","E":-3.74,"v":0.06},{"sp":"u","E":-3.64,"v":0.06},{"sp":"u","E":-3.54,"v":0.83},{"sp":"u","E":-3.45,"v":1.1},{"sp":"u","E":-3.4,"v":1.75},{"sp":"u","E":-3.36,"v":2.76},{"sp":"u","E":-3.33,"v":2.58},{"sp":"u","E":-3.28,"v":1.66},{"sp":"u","E":-3.22,"v":1.38},{"sp":"u","E":-3.14,"v":1.1},{"sp":"u","E":-3.06,"v":0.55},{"sp":"u","E":-2.96,"v":0.02},{"sp":"u","E":-2.9,"v":0},{"sp":"u","E":-1.0,"v":0},{"sp":"u","E":-0.9,"v":0.12},{"sp":"u","E":-0.8,"v":0},{"sp":"u","E":-0.5,"v":0},{"sp":"u","E":-0.4,"v":0.06},{"sp":"u","E":-0.2,"v":0.03},{"sp":"u","E":-0.04,"v":0.15},{"sp":"u","E":0.3,"v":0.04},{"sp":"u","E":0.5,"v":0},{"sp":"u","E":1.1,"v":0.03},{"sp":"u","E":1.42,"v":0.12},{"sp":"u","E":1.87,"v":0.22},{"sp":"u","E":1.94,"v":0.08},{"sp":"u","E":2.5,"v":0.03},{"sp":"u","E":3.33,"v":0.1},{"sp":"u","E":3.7,"v":0.08},{"sp":"u","E":4.2,"v":0.1},{"sp":"u","E":4.5,"v":0.15},
{"sp":"d","E":-4.5,"v":0},{"sp":"d","E":-4.22,"v":0},{"sp":"d","E":-4.13,"v":-0.18},{"sp":"d","E":-4.0,"v":-0.37},{"sp":"d","E":-3.9,"v":-0.74},{"sp":"d","E":-3.8,"v":-1.15},{"sp":"d","E":-3.74,"v":-0.97},{"sp":"d","E":-3.64,"v":-0.74},{"sp":"d","E":-3.57,"v":-0.46},{"sp":"d","E":-3.53,"v":-0.14},{"sp":"d","E":-3.48,"v":-0.37},{"sp":"d","E":-3.4,"v":-1.38},{"sp":"d","E":-3.35,"v":-2.1},{"sp":"d","E":-3.28,"v":-4.05},{"sp":"d","E":-3.25,"v":-3.4},{"sp":"d","E":-3.19,"v":-2.1},{"sp":"d","E":-3.12,"v":-1.75},{"sp":"d","E":-3.02,"v":-0.83},{"sp":"d","E":-2.89,"v":-0.09},{"sp":"d","E":-2.86,"v":0},{"sp":"d","E":1.5,"v":0},{"sp":"d","E":1.94,"v":-0.03},{"sp":"d","E":2.16,"v":-0.1},{"sp":"d","E":2.52,"v":-0.12},{"sp":"d","E":2.8,"v":-0.06},{"sp":"d","E":3.2,"v":-0.06},{"sp":"d","E":3.66,"v":-0.12},{"sp":"d","E":4.0,"v":-0.08},{"sp":"d","E":4.37,"v":-0.12},{"sp":"d","E":4.5,"v":-0.06}
]
},
"vconcat": [
{
 "width": 925, "height": 289,
 "layer": [
  {"data": {"name": "tot"}, "mark": {"type": "line", "color": "black", "strokeWidth": 3.5},
   "encoding": {
    "x": {"field": "E", "type": "quantitative", "scale": {"domain": [-4.5, 4.5], "nice": false, "zero": false},
          "axis": {"orient": "top", "values": [-3.6,-2.7,-1.8,-0.9,0,0.9,1.8,2.7,3.6], "tickCount": 50, "labels": false, "tickSize": -16, "title": null}},
    "y": {"field": "v", "type": "quantitative", "scale": {"domain": [-12, 16], "nice": false, "zero": false},
          "axis": {"values": [-12,-9,-6,-3,0,3,6,9,12,15], "tickCount": 50, "tickSize": {"condition": {"test": "datum.value % 6 == 0", "value": 17}, "value": 9}, "labelExpr": "datum.value % 6 == 0 ? toString(datum.value) : ''", "labelPadding": 8, "title": null}},
    "detail": {"field": "sp"}}},
  {"data": {"values": [{}]}, "mark": {"type": "rule", "color": "black", "strokeWidth": 3}, "encoding": {"y": {"datum": 0}}},
  {"data": {"values": [{}]}, "mark": {"type": "rule", "color": "black", "strokeWidth": 3, "strokeDash": [14, 9]}, "encoding": {"x": {"datum": 0}}},
  {"data": {"values": [{}]}, "mark": {"type": "rule", "color": "black", "strokeWidth": 3.5}, "encoding": {"x": {"datum": -4.33}, "x2": {"datum": -3.56}, "y": {"datum": 11.3}}},
  {"data": {"values": [{}]}, "mark": {"type": "text", "text": "RbVTe total", "fontSize": 32, "align": "left", "baseline": "middle", "color": "black"}, "encoding": {"x": {"datum": -3.46}, "y": {"datum": 11.3}}},
  {"data": {"values": [{}]}, "mark": {"type": "rule", "color": "red", "strokeWidth": 3}, "encoding": {"x": {"datum": -2.6}, "y": {"datum": 0}, "y2": {"datum": -7.6}}},
  {"data": {"values": [{}]}, "mark": {"type": "rule", "color": "red", "strokeWidth": 3}, "encoding": {"x": {"datum": 0.73}, "y": {"datum": 0}, "y2": {"datum": -7.1}}},
  {"data": {"values": [{}]}, "mark": {"type": "rule", "color": "red", "strokeWidth": 3}, "encoding": {"x": {"datum": -2.38}, "x2": {"datum": 0.55}, "y": {"datum": -4.0}}},
  {"data": {"values": [{}]}, "mark": {"type": "point", "shape": "triangle-left", "size": 600, "filled": true, "color": "red", "opacity": 1}, "encoding": {"x": {"datum": -2.38}, "y": {"datum": -4.0}}},
  {"data": {"values": [{}]}, "mark": {"type": "point", "shape": "triangle-right", "size": 600, "filled": true, "color": "red", "opacity": 1}, "encoding": {"x": {"datum": 0.55}, "y": {"datum": -4.0}}},
  {"data": {"values": [{}]}, "mark": {"type": "rule", "color": "red", "strokeWidth": 2}, "encoding": {"x": {"datum": 0.18}, "x2": {"datum": 0.58}, "y": {"datum": -1.9}}},
  {"data": {"values": [{}]}, "mark": {"type": "point", "shape": "triangle-left", "size": 350, "filled": true, "color": "red", "opacity": 1}, "encoding": {"x": {"datum": 0.18}, "y": {"datum": -1.9}}},
  {"data": {"values": [{}]}, "mark": {"type": "point", "shape": "triangle-right", "size": 350, "filled": true, "color": "red", "opacity": 1}, "encoding": {"x": {"datum": 0.58}, "y": {"datum": -1.9}}},
  {"data": {"values": [{}]}, "mark": {"type": "rule", "color": "red", "strokeWidth": 3.5}, "encoding": {"x": {"datum": 0.4}, "y": {"datum": -1.45}, "x2": {"datum": 0.68}, "y2": {"datum": 7.65}}},
  {"data": {"values": [{}]}, "mark": {"type": "point", "shape": "triangle-up", "size": 600, "angle": 17, "filled": true, "color": "red", "opacity": 1}, "encoding": {"x": {"datum": 0.68}, "y": {"datum": 7.65}}},
  {"data": {"values": [{}]}, "mark": {"type": "rule", "color": "red", "strokeWidth": 3.5}, "encoding": {"x": {"datum": -1.2}, "y": {"datum": -4.9}, "x2": {"datum": -1.654}, "y2": {"datum": -5.86}}},
  {"data": {"values": [{}]}, "mark": {"type": "point", "shape": "triangle-up", "size": 350, "angle": 259, "filled": true, "color": "red", "opacity": 1}, "encoding": {"x": {"datum": -1.654}, "y": {"datum": -5.86}}},
  {"data": {"values": [{}]}, "mark": {"type": "text", "text": "E", "fontSize": 28, "fontWeight": "bold", "align": "left", "baseline": "alphabetic", "color": "black"}, "encoding": {"x": {"datum": -2.096}, "y": {"datum": -8.52}}},
  {"data": {"values": [{}]}, "mark": {"type": "text", "text": "BG", "fontSize": 28, "fontWeight": "bold", "align": "left", "baseline": "alphabetic", "color": "black"}, "encoding": {"x": {"datum": -1.912}, "y": {"datum": -9.78}}},
  {"data": {"values": [{}]}, "mark": {"type": "text", "text": "= 3.7 eV", "fontSize": 28, "fontWeight": "bold", "align": "left", "baseline": "alphabetic", "color": "black"}, "encoding": {"x": {"datum": -1.503}, "y": {"datum": -8.52}}},
  {"data": {"values": [{}]}, "mark": {"type": "text", "text": "E", "fontSize": 28, "fontWeight": "bold", "align": "left", "baseline": "alphabetic", "color": "black"}, "encoding": {"x": {"datum": 0.676}, "y": {"datum": 11.04}}},
  {"data": {"values": [{}]}, "mark": {"type": "text", "text": "HM", "fontSize": 28, "fontWeight": "bold", "align": "left", "baseline": "alphabetic", "color": "black"}, "encoding": {"x": {"datum": 0.85}, "y": {"datum": 9.78}}},
  {"data": {"values": [{}]}, "mark": {"type": "text", "text": "= 0.8 eV", "fontSize": 28, "fontWeight": "bold", "align": "left", "baseline": "alphabetic", "color": "black"}, "encoding": {"x": {"datum": 1.29}, "y": {"datum": 11.04}}}
 ]
},
{
 "width": 925, "height": 289,
 "layer": [
  {"data": {"name": "rb_t"}, "mark": {"type": "line", "color": "#FF00FF", "strokeWidth": 4.5},
   "encoding": {
    "x": {"field": "E", "type": "quantitative", "scale": {"domain": [-4.5, 4.5], "nice": false, "zero": false},
          "axis": {"orient": "top", "values": [-3.6,-2.7,-1.8,-0.9,0,0.9,1.8,2.7,3.6], "tickCount": 50, "labels": false, "tickSize": -16, "title": null}},
    "y": {"field": "v", "type": "quantitative", "scale": {"domain": [-0.6, 0.6], "nice": false, "zero": false},
          "axis": {"values": [-0.4,-0.2,0,0.2,0.4], "tickCount": 50, "tickSize": {"condition": {"test": "abs(datum.value) < 0.01 || abs(abs(datum.value) - 0.4) < 0.01", "value": 17}, "value": 9}, "labelExpr": "abs(datum.value) < 0.01 ? '0.0' : (abs(abs(datum.value) - 0.4) < 0.01 ? toString(datum.value) : '')", "labelPadding": 8,
                   "title": "Density of States", "titleX": -115, "titleY": 289, "titleAngle": -90, "titleAlign": "center", "titleBaseline": "alphabetic", "titleFontSize": 54}},
    "detail": {"field": "sp"}}},
  {"data": {"name": "rb_s"}, "mark": {"type": "line", "color": "#008000", "strokeWidth": 4.5}, "encoding": {"x": {"field": "E", "type": "quantitative"}, "y": {"field": "v", "type": "quantitative"}, "detail": {"field": "sp"}}},
  {"data": {"name": "rb_p"}, "mark": {"type": "line", "color": "#0000FF", "strokeWidth": 4.5}, "encoding": {"x": {"field": "E", "type": "quantitative"}, "y": {"field": "v", "type": "quantitative"}, "detail": {"field": "sp"}}},
  {"data": {"name": "rb_d"}, "mark": {"type": "line", "color": "#FF8000", "strokeWidth": 4.5}, "encoding": {"x": {"field": "E", "type": "quantitative"}, "y": {"field": "v", "type": "quantitative"}, "detail": {"field": "sp"}}},
  {"data": {"values": [{}]}, "mark": {"type": "rule", "color": "black", "strokeWidth": 3, "strokeDash": [14, 9]}, "encoding": {"x": {"datum": 0}}},
  {"data": {"values": [{}]}, "mark": {"type": "rect", "fill": "white", "stroke": "black", "strokeWidth": 1.5}, "encoding": {"x": {"datum": -2.68}, "x2": {"datum": -1.17}, "y": {"datum": -0.07}, "y2": {"datum": -0.528}}},
  {"data": {"values": [{}]}, "mark": {"type": "rule", "color": "#FF00FF", "strokeWidth": 4.5}, "encoding": {"x": {"datum": -2.65}, "x2": {"datum": -2.13}, "y": {"datum": -0.136}}},
  {"data": {"values": [{}]}, "mark": {"type": "rule", "color": "#008000", "strokeWidth": 4.5}, "encoding": {"x": {"datum": -2.65}, "x2": {"datum": -2.13}, "y": {"datum": -0.252}}},
  {"data": {"values": [{}]}, "mark": {"type": "rule", "color": "#0000FF", "strokeWidth": 4.5}, "encoding": {"x": {"datum": -2.65}, "x2": {"datum": -2.13}, "y": {"datum": -0.363}}},
  {"data": {"values": [{}]}, "mark": {"type": "rule", "color": "#FF8000", "strokeWidth": 4.5}, "encoding": {"x": {"datum": -2.65}, "x2": {"datum": -2.13}, "y": {"datum": -0.478}}},
  {"data": {"values": [{}]}, "mark": {"type": "text", "text": "Rb:total", "fontSize": 22, "align": "left", "baseline": "middle", "color": "black"}, "encoding": {"x": {"datum": -2.01}, "y": {"datum": -0.136}}},
  {"data": {"values": [{}]}, "mark": {"type": "text", "text": "Rb:s", "fontSize": 22, "align": "left", "baseline": "middle", "color": "black"}, "encoding": {"x": {"datum": -2.01}, "y": {"datum": -0.252}}},
  {"data": {"values": [{}]}, "mark": {"type": "text", "text": "Rb:p", "fontSize": 22, "align": "left", "baseline": "middle", "color": "black"}, "encoding": {"x": {"datum": -2.01}, "y": {"datum": -0.363}}},
  {"data": {"values": [{}]}, "mark": {"type": "text", "text": "Rb:d", "fontSize": 22, "align": "left", "baseline": "middle", "color": "black"}, "encoding": {"x": {"datum": -2.01}, "y": {"datum": -0.478}}},
  {"data": {"values": [{}]}, "mark": {"type": "text", "text": "Rb", "fontSize": 40, "align": "center", "baseline": "alphabetic", "color": "black"}, "encoding": {"x": {"datum": 2.286}, "y": {"datum": 0.309}}}
 ]
},
{
 "width": 925, "height": 289,
 "layer": [
  {"data": {"name": "v_t"}, "mark": {"type": "line", "color": "#FF00FF", "strokeWidth": 4.5},
   "encoding": {
    "x": {"field": "E", "type": "quantitative", "scale": {"domain": [-4.5, 4.5], "nice": false, "zero": false},
          "axis": {"orient": "top", "values": [-3.6,-2.7,-1.8,-0.9,0,0.9,1.8,2.7,3.6], "tickCount": 50, "labels": false, "tickSize": -16, "title": null}},
    "y": {"field": "v", "type": "quantitative", "scale": {"domain": [-6.5, 12], "nice": false, "zero": false},
          "axis": {"values": [-6,-4,-2,0,2,4,6,8,10,12], "tickCount": 50, "tickSize": {"condition": {"test": "datum.value % 4 == 0", "value": 17}, "value": 9}, "labelExpr": "datum.value % 4 == 0 ? toString(datum.value) : ''", "labelPadding": 8, "title": null}},
    "detail": {"field": "sp"}}},
  {"data": {"name": "v_d"}, "mark": {"type": "line", "color": "#008000", "strokeWidth": 4.5}, "encoding": {"x": {"field": "E", "type": "quantitative"}, "y": {"field": "v", "type": "quantitative"}, "detail": {"field": "sp"}}},
  {"data": {"name": "v_eg"}, "mark": {"type": "line", "color": "#0000FF", "strokeWidth": 4.5}, "encoding": {"x": {"field": "E", "type": "quantitative"}, "y": {"field": "v", "type": "quantitative"}, "detail": {"field": "sp"}}},
  {"data": {"name": "v_t2g"}, "mark": {"type": "line", "color": "#FF8000", "strokeWidth": 4.5}, "encoding": {"x": {"field": "E", "type": "quantitative"}, "y": {"field": "v", "type": "quantitative"}, "detail": {"field": "sp"}}},
  {"data": {"values": [{}]}, "mark": {"type": "rule", "color": "black", "strokeWidth": 3, "strokeDash": [14, 9]}, "encoding": {"x": {"datum": 0}}},
  {"data": {"values": [{}]}, "mark": {"type": "rect", "fill": "white", "stroke": "black", "strokeWidth": 1.5}, "encoding": {"x": {"datum": -2.66}, "x2": {"datum": -1.27}, "y": {"datum": 10.06}, "y2": {"datum": 1.79}}},
  {"data": {"values": [{}]}, "mark": {"type": "rule", "color": "#FF00FF", "strokeWidth": 4.5}, "encoding": {"x": {"datum": -2.6}, "x2": {"datum": -2.08}, "y": {"datum": 8.97}}},
  {"data": {"values": [{}]}, "mark": {"type": "rule", "color": "#008000", "strokeWidth": 4.5}, "encoding": {"x": {"datum": -2.6}, "x2": {"datum": -2.08}, "y": {"datum": 7.18}}},
  {"data": {"values": [{}]}, "mark": {"type": "rule", "color": "#0000FF", "strokeWidth": 4.5}, "encoding": {"x": {"datum": -2.6}, "x2": {"datum": -2.08}, "y": {"datum": 5.38}}},
  {"data": {"values": [{}]}, "mark": {"type": "rule", "color": "#FF8000", "strokeWidth": 4.5}, "encoding": {"x": {"datum": -2.6}, "x2": {"datum": -2.08}, "y": {"datum": 3.08}}},
  {"data": {"values": [{}]}, "mark": {"type": "text", "text": "V:total", "fontSize": 22, "align": "left", "baseline": "middle", "color": "black"}, "encoding": {"x": {"datum": -1.96}, "y": {"datum": 8.97}}},
  {"data": {"values": [{}]}, "mark": {"type": "text", "text": "V:d", "fontSize": 22, "align": "left", "baseline": "middle", "color": "black"}, "encoding": {"x": {"datum": -1.96}, "y": {"datum": 7.18}}},
  {"data": {"values": [{}]}, "mark": {"type": "text", "text": "V:d-e", "fontSize": 22, "align": "left", "baseline": "middle", "color": "black"}, "encoding": {"x": {"datum": -1.96}, "y": {"datum": 5.38}}},
  {"data": {"values": [{}]}, "mark": {"type": "text", "text": "g", "fontSize": 15, "align": "left", "baseline": "middle", "color": "black"}, "encoding": {"x": {"datum": -1.445}, "y": {"datum": 4.49}}},
  {"data": {"values": [{}]}, "mark": {"type": "text", "text": "V:d-t2", "fontSize": 22, "align": "left", "baseline": "middle", "color": "black"}, "encoding": {"x": {"datum": -1.96}, "y": {"datum": 3.08}}},
  {"data": {"values": [{}]}, "mark": {"type": "text", "text": "g", "fontSize": 15, "align": "left", "baseline": "middle", "color": "black"}, "encoding": {"x": {"datum": -1.381}, "y": {"datum": 2.24}}},
  {"data": {"values": [{}]}, "mark": {"type": "text", "text": "V", "fontSize": 40, "align": "center", "baseline": "alphabetic", "color": "black"}, "encoding": {"x": {"datum": 2.286}, "y": {"datum": 6.2}}}
 ]
},
{
 "width": 925, "height": 289,
 "resolve": {"axis": {"x": "independent"}},
 "layer": [
  {"layer": [
   {"data": {"name": "te_t"}, "mark": {"type": "line", "color": "#FF00FF", "strokeWidth": 4.5},
    "encoding": {
     "x": {"field": "E", "type": "quantitative", "scale": {"domain": [-4.5, 4.5], "nice": false, "zero": false},
           "axis": {"orient": "bottom", "values": [-4,-3,-2,-1,0,1,2,3,4], "tickCount": 50, "tickSize": {"condition": {"test": "datum.value % 2 == 0", "value": 19}, "value": 11}, "labelExpr": "datum.value % 2 == 0 ? toString(datum.value) : ''", "labelFontSize": 28, "labelPadding": 14, "title": "Energy (eV)", "titlePadding": 4, "titleFontSize": 54}},
     "y": {"field": "v", "type": "quantitative", "scale": {"domain": [-4.5, 3.5], "nice": false, "zero": false},
           "axis": {"values": [-4,-3,-2,-1,0,1,2,3], "tickCount": 50, "tickSize": {"condition": {"test": "datum.value % 2 == 0", "value": 17}, "value": 9}, "labelExpr": "datum.value % 2 == 0 ? toString(datum.value) : ''", "labelPadding": 8, "title": null}},
     "detail": {"field": "sp"}}},
   {"data": {"name": "te_s"}, "mark": {"type": "line", "color": "#008000", "strokeWidth": 4.5}, "encoding": {"x": {"field": "E", "type": "quantitative"}, "y": {"field": "v", "type": "quantitative"}, "detail": {"field": "sp"}}},
   {"data": {"name": "te_p"}, "mark": {"type": "line", "color": "#0000FF", "strokeWidth": 4.5}, "encoding": {"x": {"field": "E", "type": "quantitative"}, "y": {"field": "v", "type": "quantitative"}, "detail": {"field": "sp"}}},
   {"data": {"values": [{}]}, "mark": {"type": "rect", "fill": "white", "stroke": "black", "strokeWidth": 1.5}, "encoding": {"x": {"datum": -2.68}, "x2": {"datum": -1.31}, "y": {"datum": 2.6}, "y2": {"datum": 0.22}}},
   {"data": {"values": [{}]}, "mark": {"type": "rule", "color": "#FF00FF", "strokeWidth": 4.5}, "encoding": {"x": {"datum": -2.63}, "x2": {"datum": -2.12}, "y": {"datum": 2.15}}},
   {"data": {"values": [{}]}, "mark": {"type": "rule", "color": "#008000", "strokeWidth": 4.5}, "encoding": {"x": {"datum": -2.63}, "x2": {"datum": -2.12}, "y": {"datum": 1.38}}},
   {"data": {"values": [{}]}, "mark": {"type": "rule", "color": "#0000FF", "strokeWidth": 4.5}, "encoding": {"x": {"datum": -2.63}, "x2": {"datum": -2.12}, "y": {"datum": 0.61}}},
   {"data": {"values": [{}]}, "mark": {"type": "text", "text": "Te:total", "fontSize": 22, "align": "left", "baseline": "middle", "color": "black"}, "encoding": {"x": {"datum": -2.06}, "y": {"datum": 2.15}}},
   {"data": {"values": [{}]}, "mark": {"type": "text", "text": "Te:s", "fontSize": 22, "align": "left", "baseline": "middle", "color": "black"}, "encoding": {"x": {"datum": -2.06}, "y": {"datum": 1.38}}},
   {"data": {"values": [{}]}, "mark": {"type": "text", "text": "Te:p", "fontSize": 22, "align": "left", "baseline": "middle", "color": "black"}, "encoding": {"x": {"datum": -2.06}, "y": {"datum": 0.61}}},
   {"data": {"values": [{}]}, "mark": {"type": "text", "text": "Te", "fontSize": 40, "align": "center", "baseline": "alphabetic", "color": "black"}, "encoding": {"x": {"datum": 2.31}, "y": {"datum": 1.24}}}
  ]},
  {"data": {"values": [{}]}, "mark": {"type": "rule", "color": "black", "strokeWidth": 3, "strokeDash": [14, 9]},
   "encoding": {"x": {"datum": 0, "axis": {"orient": "top", "values": [-3.6,-2.7,-1.8,-0.9,0,0.9,1.8,2.7,3.6], "tickCount": 50, "labels": false, "tickSize": -16, "title": null}}}}
 ]
}
]
}
